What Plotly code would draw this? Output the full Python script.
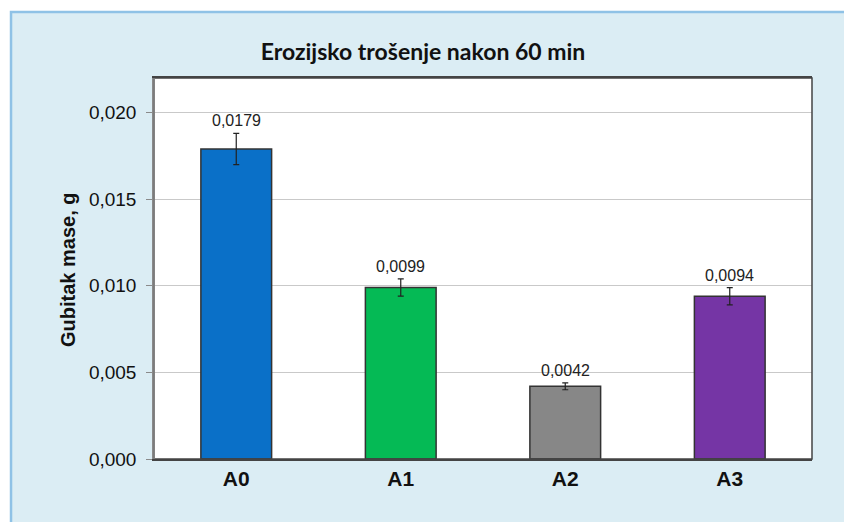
import plotly.graph_objects as go

# Erosion wear after 60 minutes: mass loss per sample
categories = ["A0", "A1", "A2", "A3"]
mass_loss = [0.0179, 0.0099, 0.0042, 0.0094]
errors = [0.0009, 0.0005, 0.0002, 0.0005]
bar_colors = ["#0A70C8", "#05BA55", "#878787", "#7535A5"]
value_labels = ["0,0179", "0,0099", "0,0042", "0,0094"]
y_ticks = [0.0, 0.005, 0.010, 0.015, 0.020]
y_tick_labels = ["0,000", "0,005", "0,010", "0,015", "0,020"]

panel_color = "#DBEDF4"
border_color = "#8FC2E6"
sans = "Liberation Sans, Arial, sans-serif"

fig = go.Figure()
fig.add_trace(go.Bar(
    x=categories,
    y=mass_loss,
    marker=dict(color=bar_colors, line=dict(color="#333333", width=1.5)),
    error_y=dict(type="data", array=errors, visible=True,
                 color="#222222", thickness=1.2, width=3),
    width=0.43,
    hoverinfo="x+y",
))

# value labels above each error bar
for cat, val, err, lab in zip(categories, mass_loss, errors, value_labels):
    fig.add_annotation(
        x=cat, y=val + err, text=lab, showarrow=False,
        yanchor="bottom", yshift=2,
        font=dict(family=sans, size=16, color="#222222"),
    )

# vertical axis title
fig.add_annotation(
    x=(55 - 154) / 658, y=0.496, xref="paper", yref="paper",
    text="<b>Gubitak mase, g</b>",
    textangle=-90, showarrow=False,
    font=dict(family=sans, size=20, color="#111111"),
)

# white margin outside the light-blue panel, and the panel's border
shapes = [
    dict(type="rect", xref="paper", yref="paper", x0=-0.3, x1=1.2, y0=1.1732, y1=1.3,
         fillcolor="white", line=dict(width=0), layer="above"),
    dict(type="rect", xref="paper", yref="paper", x0=-0.3, x1=-0.2173, y0=-0.3, y1=1.3,
         fillcolor="white", line=dict(width=0), layer="above"),
    dict(type="path", xref="paper", yref="paper",
         path="M -0.2173,-0.3 L -0.2173,1.1732 L 1.2,1.1732",
         line=dict(color=border_color, width=2.5), layer="above"),
    # dark frame of the plot area
    dict(type="rect", xref="paper", yref="paper", x0=0, x1=1, y0=0, y1=1,
         line=dict(color="#444444", width=1.5), layer="above"),
    # grey left axis line over the frame
    dict(type="line", xref="paper", yref="paper", x0=0, x1=0, y0=0, y1=1,
         line=dict(color="#8A8A8A", width=1.5), layer="above"),
]

fig.update_layout(
    width=844, height=522,
    margin=dict(l=154, r=32, t=78, b=63),
    paper_bgcolor=panel_color,
    plot_bgcolor="white",
    separators=",.",
    showlegend=False,
    shapes=shapes,
    title=dict(
        text="<b>Erozijsko trošenje nakon 60 min</b>",
        x=423 / 844, xanchor="center", xref="container",
        y=1 - 52 / 522, yanchor="middle",
        font=dict(family="Lato, Open Sans, sans-serif", size=23, color="#111111"),
    ),
    xaxis=dict(
        showline=True, linecolor="#444444", linewidth=1.5, mirror=True,
        ticks="", showgrid=False,
        tickfont=dict(family=sans, size=21, color="#111111", weight="bold"),
    ),
    yaxis=dict(
        range=[0, 0.022],
        tickvals=y_ticks, ticktext=y_tick_labels,
        showline=True, linecolor="#8A8A8A", linewidth=1.5, mirror=False,
        ticks="outside", ticklen=6, tickcolor="#8A8A8A",
        ticklabelstandoff=6,
        showgrid=True, gridcolor="#C9C9C9", gridwidth=1.2,
        zeroline=False,
        tickfont=dict(family=sans, size=19, color="#111111"),
    ),
)

fig.write_html("out.html")
